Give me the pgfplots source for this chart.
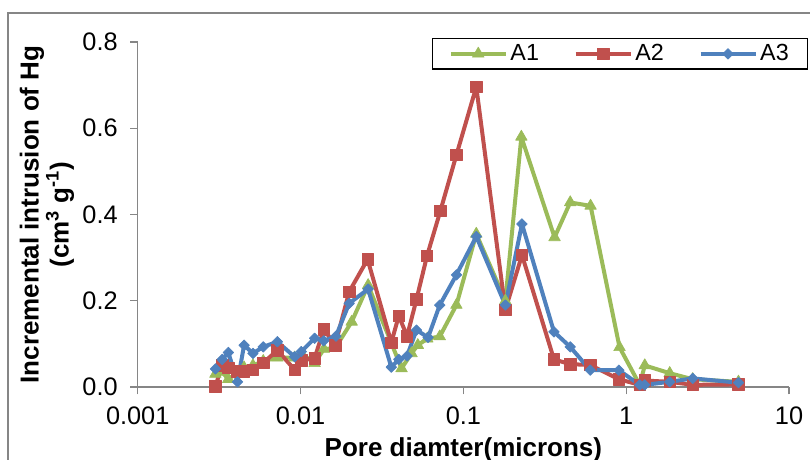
\documentclass[border=0pt]{standalone}
\usepackage{fontspec}
\setmainfont{Liberation Sans}
\usepackage{pgfplots}
\pgfplotsset{compat=1.18}

\definecolor{cA1}{RGB}{155,187,89}
\definecolor{cA2}{RGB}{192,80,77}
\definecolor{cA3}{RGB}{79,129,189}
\definecolor{axgray}{RGB}{134,134,134}

\begin{document}
\begin{tikzpicture}
\begin{axis}[
    xmode=log,
    scale only axis,
    width=488.5pt, height=258.75pt,
    xmin=0.001, xmax=10, ymin=0, ymax=0.8,
    axis x line*=bottom, axis y line*=left,
    axis line style={-, draw=axgray, line width=1pt},
    tick align=outside, major tick length=5.5pt,
    tick style={draw=axgray, line width=1pt},
    xminorticks=false,
    xtick={0.001,0.01,0.1,1,10},
    xticklabels={0.001,0.01,0.1,1,10},
    ytick={0,0.2,0.4,0.6,0.8},
    ticklabel style={font=\fontsize{19}{21}\selectfont},
    xticklabel style={yshift=-6pt},
    yticklabel style={xshift=-6pt, /pgf/number format/.cd, fixed, fixed zerofill, precision=1, assume math mode=true},
    xlabel={Pore diamter(microns)},
    ylabel={Incremental intrusion of Hg\\(cm\textsuperscript{3} g\textsuperscript{-1})},
    label style={font=\bfseries\fontsize{19.5}{22.5}\selectfont},
    xlabel style={at={(axis description cs:0.5,0)}, anchor=base, yshift=-52pt},
    ylabel style={at={(axis description cs:-0.1393,0.5)}, anchor=center, align=center},
    legend columns=3,
    legend style={at={(axis description cs:1.0292,1.0116)}, anchor=north east,
        draw=black, line width=1pt, font=\fontsize{17.5}{20}\selectfont,
        inner xsep=12pt, inner ysep=2.5pt,
        /tikz/every even column/.append style={column sep=24pt}},
    legend image code/.code={\draw[mark repeat=2,mark phase=2] plot coordinates {(0cm,0cm) (0.725cm,0cm) (1.45cm,0cm)};},
    every axis plot/.append style={line width=3pt, line join=round},
]

% A1
\addplot[cA1, mark=triangle*, mark size=5pt, mark options={solid, line width=0.5pt, fill=cA1}] coordinates {
    (0.0030,0.030) (0.0033,0.035) (0.0036,0.018) (0.0045,0.045) (0.0051,0.050)
    (0.0059,0.060) (0.0072,0.068) (0.0092,0.068) (0.0101,0.078) (0.0122,0.055)
    (0.0139,0.088) (0.0163,0.090) (0.0206,0.151) (0.0260,0.236) (0.0417,0.043)
    (0.0480,0.078) (0.0525,0.097) (0.0600,0.112) (0.0716,0.117) (0.0906,0.190)
    (0.120,0.355) (0.181,0.200) (0.227,0.580) (0.363,0.347) (0.453,0.428)
    (0.604,0.420) (0.910,0.092) (1.21,0.005) (1.30,0.050) (1.85,0.032)
    (2.56,0.018) (4.89,0.012)
};
\addlegendentry{A1}

% A2
\addplot[cA2, mark=square*, mark size=4.3pt, mark options={solid, line width=0.5pt, fill=cA2}] coordinates {
    (0.0030,0.002) (0.0033,0.050) (0.0036,0.045) (0.0041,0.036) (0.0045,0.036)
    (0.0051,0.040) (0.0059,0.056) (0.0072,0.085) (0.0092,0.040) (0.0101,0.062)
    (0.0122,0.067) (0.0139,0.134) (0.0163,0.097) (0.0199,0.221) (0.0258,0.296)
    (0.0361,0.103) (0.0401,0.165) (0.0451,0.118) (0.0515,0.203) (0.0598,0.304)
    (0.0723,0.409) (0.0906,0.538) (0.120,0.696) (0.181,0.179) (0.229,0.306)
    (0.360,0.064) (0.453,0.053) (0.601,0.051) (0.901,0.018) (1.21,0.005)
    (1.30,0.015) (1.85,0.012) (2.56,0.005) (4.89,0.006)
};
\addlegendentry{A2}

% A3
\addplot[cA3, mark=square*, mark size=2.8pt, mark options={solid, rotate=45, line width=0.5pt, fill=cA3}] coordinates {
    (0.0030,0.042) (0.0033,0.064) (0.0036,0.080) (0.0041,0.012) (0.0045,0.097)
    (0.0051,0.078) (0.0059,0.093) (0.0072,0.105) (0.0092,0.070) (0.0101,0.082)
    (0.0122,0.113) (0.0139,0.107) (0.0165,0.118) (0.0199,0.194) (0.0260,0.227)
    (0.0361,0.046) (0.0401,0.064) (0.0451,0.072) (0.0515,0.132) (0.0607,0.115)
    (0.0716,0.190) (0.0906,0.260) (0.120,0.349) (0.181,0.190) (0.229,0.378)
    (0.360,0.128) (0.453,0.093) (0.601,0.039) (0.901,0.039) (1.21,0.005)
    (1.30,0.005) (1.85,0.012) (2.56,0.020) (4.89,0.010)
};
\addlegendentry{A3}

\end{axis}
% outer chart border (cropped)
\draw[axgray, line width=1pt] (-97.3pt,-70pt) -- (-97.3pt,280.5pt) -- (520pt,280.5pt);
\pgfresetboundingbox
\useasboundingbox (-103.3pt,-54.75pt) rectangle (504.2pt,290.25pt);
\end{tikzpicture}
\end{document}
